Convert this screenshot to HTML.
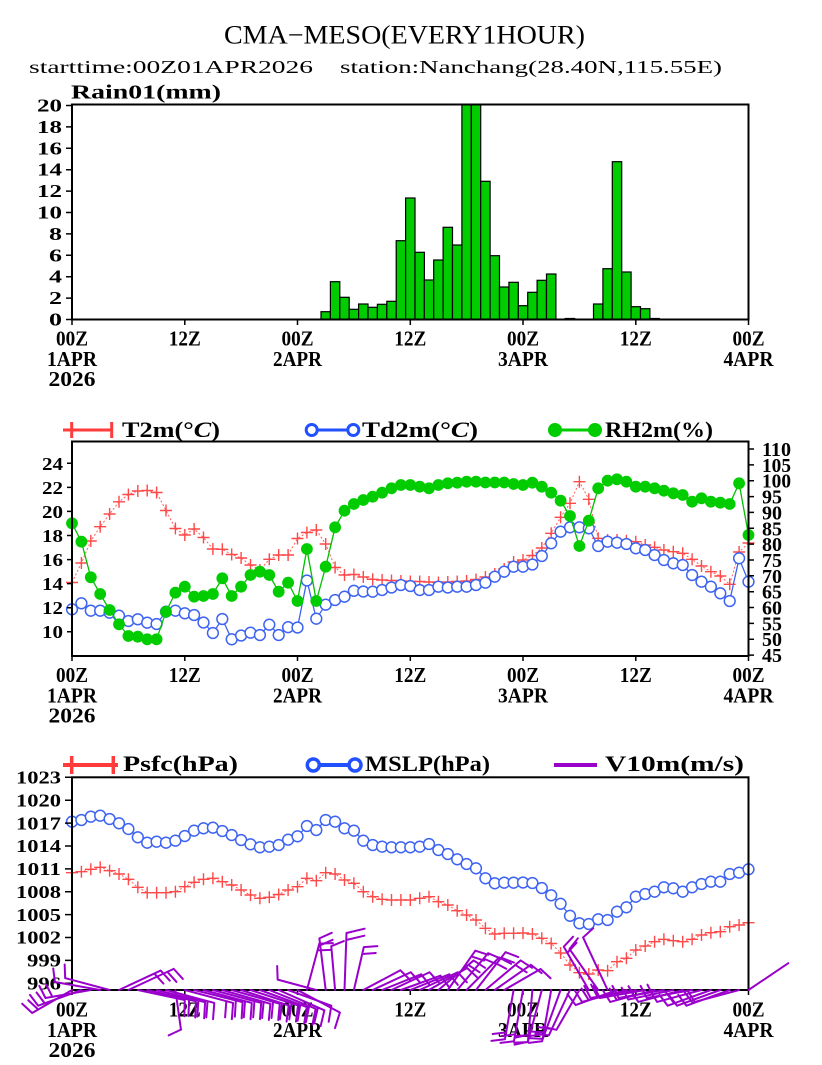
<!DOCTYPE html>
<html><head><meta charset="utf-8"><style>
html,body{margin:0;padding:0;background:#fff;}
svg{display:block;}
text{font-family:"Liberation Serif",serif;fill:#000;}
.b{font-weight:bold;}
</style></head><body>
<svg width="822" height="1065" viewBox="0 0 822 1065" xmlns="http://www.w3.org/2000/svg">
<defs>
<marker id="mx" markerWidth="14" markerHeight="14" refX="7" refY="7" markerUnits="userSpaceOnUse" overflow="visible"><path d="M1,7H13M7,1V13" stroke="#ff4848" stroke-width="1.4" fill="none"/></marker>
<marker id="mo" markerWidth="14" markerHeight="14" refX="7" refY="7" markerUnits="userSpaceOnUse" overflow="visible"><circle cx="7" cy="7" r="5.4" fill="#fff" stroke="#3d63f2" stroke-width="1.5"/></marker>
<marker id="mo2" markerWidth="14" markerHeight="14" refX="7" refY="7" markerUnits="userSpaceOnUse" overflow="visible"><circle cx="7" cy="7" r="5.4" fill="#fff" stroke="#3d63f2" stroke-width="1.5"/></marker>
<marker id="mg" markerWidth="14" markerHeight="14" refX="7" refY="7" markerUnits="userSpaceOnUse" overflow="visible"><circle cx="7" cy="7" r="5.9" fill="#00cc00"/></marker>
<clipPath id="cr"><rect x="72" y="104.5" width="676.5" height="215"/></clipPath>
</defs>

<!-- Titles -->
<text x="224" y="43.5" font-size="26" textLength="361" lengthAdjust="spacingAndGlyphs">CMA−MESO(EVERY1HOUR)</text>
<text x="29" y="73" font-size="18" textLength="284" lengthAdjust="spacingAndGlyphs">starttime:00Z01APR2026</text>
<text x="340" y="73" font-size="18" textLength="382" lengthAdjust="spacingAndGlyphs">station:Nanchang(28.40N,115.55E)</text>
<text class="b" x="71" y="98.5" font-size="20" textLength="150" lengthAdjust="spacingAndGlyphs">Rain01(mm)</text>

<!-- Rain bars -->
<g clip-path="url(#cr)" fill="#00cc00" stroke="#000" stroke-width="1.2">
<rect x="321.0" y="311.7" width="9.4" height="7.8"/>
<rect x="330.4" y="281.7" width="9.4" height="37.8"/>
<rect x="339.8" y="297.3" width="9.4" height="22.2"/>
<rect x="349.2" y="309.3" width="9.4" height="10.2"/>
<rect x="358.6" y="304" width="9.4" height="15.5"/>
<rect x="368.0" y="307.3" width="9.4" height="12.2"/>
<rect x="377.4" y="304.3" width="9.4" height="15.2"/>
<rect x="386.8" y="301.3" width="9.4" height="18.2"/>
<rect x="396.2" y="240.7" width="9.4" height="78.8"/>
<rect x="405.6" y="198" width="9.4" height="121.5"/>
<rect x="415.0" y="252.3" width="9.4" height="67.2"/>
<rect x="424.3" y="280" width="9.4" height="39.5"/>
<rect x="433.7" y="260" width="9.4" height="59.5"/>
<rect x="443.1" y="227.3" width="9.4" height="92.2"/>
<rect x="452.5" y="245" width="9.4" height="74.5"/>
<rect x="461.9" y="103" width="9.4" height="216.5"/>
<rect x="471.3" y="103" width="9.4" height="216.5"/>
<rect x="480.7" y="181.3" width="9.4" height="138.2"/>
<rect x="490.1" y="255.7" width="9.4" height="63.8"/>
<rect x="499.5" y="287" width="9.4" height="32.5"/>
<rect x="508.9" y="282.3" width="9.4" height="37.2"/>
<rect x="518.3" y="305.7" width="9.4" height="13.8"/>
<rect x="527.7" y="292.3" width="9.4" height="27.2"/>
<rect x="537.1" y="280.3" width="9.4" height="39.2"/>
<rect x="546.5" y="274" width="9.4" height="45.5"/>
<rect x="565.3" y="318.5" width="9.4" height="1"/>
<rect x="593.5" y="304" width="9.4" height="15.5"/>
<rect x="602.9" y="268.7" width="9.4" height="50.8"/>
<rect x="612.3" y="161.7" width="9.4" height="157.8"/>
<rect x="621.7" y="272" width="9.4" height="47.5"/>
<rect x="631.1" y="306.7" width="9.4" height="12.8"/>
<rect x="640.5" y="308.7" width="9.4" height="10.8"/>
<rect x="649.9" y="318.5" width="9.4" height="1"/>
</g>
<rect x="72" y="104.5" width="676.5" height="215" fill="none" stroke="#000" stroke-width="2"/>

<!-- Rain y axis -->
<g stroke="#000" stroke-width="1.5">
<path d="M66,319.5H72M66,298.1H72M66,276.7H72M66,255.3H72M66,233.9H72M66,212.5H72M66,191.1H72M66,169.7H72M66,148.3H72M66,126.9H72M66,105.5H72"/>
<path d="M72,319.5V325M184.8,319.5V325M297.5,319.5V325M410.3,319.5V325M523,319.5V325M635.8,319.5V325M748.5,319.5V325"/>
</g>
<g class="b" font-size="18" font-weight="bold" text-anchor="end">
<text x="62" y="325.5" textLength="13" lengthAdjust="spacingAndGlyphs">0</text>
<text x="62" y="304.1" textLength="13" lengthAdjust="spacingAndGlyphs">2</text>
<text x="62" y="282.7" textLength="13" lengthAdjust="spacingAndGlyphs">4</text>
<text x="62" y="261.3" textLength="13" lengthAdjust="spacingAndGlyphs">6</text>
<text x="62" y="239.9" textLength="13" lengthAdjust="spacingAndGlyphs">8</text>
<text x="62" y="218.5" textLength="25" lengthAdjust="spacingAndGlyphs">10</text>
<text x="62" y="197.1" textLength="25" lengthAdjust="spacingAndGlyphs">12</text>
<text x="62" y="175.7" textLength="25" lengthAdjust="spacingAndGlyphs">14</text>
<text x="62" y="154.3" textLength="25" lengthAdjust="spacingAndGlyphs">16</text>
<text x="62" y="132.9" textLength="25" lengthAdjust="spacingAndGlyphs">18</text>
<text x="62" y="111.5" textLength="25" lengthAdjust="spacingAndGlyphs">20</text>
</g>
<g font-size="21" font-weight="bold" text-anchor="middle">
<text x="72" y="345.5" textLength="32" lengthAdjust="spacingAndGlyphs">00Z</text>
<text x="184.8" y="345.5" textLength="32" lengthAdjust="spacingAndGlyphs">12Z</text>
<text x="297.5" y="345.5" textLength="32" lengthAdjust="spacingAndGlyphs">00Z</text>
<text x="410.3" y="345.5" textLength="32" lengthAdjust="spacingAndGlyphs">12Z</text>
<text x="523" y="345.5" textLength="32" lengthAdjust="spacingAndGlyphs">00Z</text>
<text x="635.8" y="345.5" textLength="32" lengthAdjust="spacingAndGlyphs">12Z</text>
<text x="748.5" y="345.5" textLength="32" lengthAdjust="spacingAndGlyphs">00Z</text>
<text x="72" y="366" textLength="50" lengthAdjust="spacingAndGlyphs">1APR</text>
<text x="297.5" y="366" textLength="49" lengthAdjust="spacingAndGlyphs">2APR</text>
<text x="523" y="366" textLength="50" lengthAdjust="spacingAndGlyphs">3APR</text>
<text x="748.5" y="366" textLength="50" lengthAdjust="spacingAndGlyphs">4APR</text>
<text x="72" y="386" textLength="47" lengthAdjust="spacingAndGlyphs">2026</text>
</g>

<!-- Middle legend -->
<line x1="63" y1="430" x2="113" y2="430" stroke="#ff3b3b" stroke-width="3"/>
<path d="M71.7,422V438M111.7,422V438" stroke="#ff3b3b" stroke-width="3"/>
<text x="122" y="437" font-size="22" font-weight="bold" textLength="98" lengthAdjust="spacingAndGlyphs">T2m(°<tspan font-style="italic">C</tspan>)</text>
<line x1="305" y1="430" x2="360" y2="430" stroke="#2050ff" stroke-width="3"/>
<circle cx="311.7" cy="430" r="5.5" fill="#fff" stroke="#2050ff" stroke-width="3"/>
<circle cx="353.3" cy="430" r="5.5" fill="#fff" stroke="#2050ff" stroke-width="3"/>
<text x="362" y="437" font-size="22" font-weight="bold" textLength="116" lengthAdjust="spacingAndGlyphs">Td2m(°<tspan font-style="italic">C</tspan>)</text>
<line x1="550" y1="430" x2="600" y2="430" stroke="#00cc00" stroke-width="3"/>
<circle cx="555" cy="430" r="7" fill="#00cc00"/>
<circle cx="595" cy="430" r="7" fill="#00cc00"/>
<text x="605" y="437" font-size="22" font-weight="bold" textLength="108" lengthAdjust="spacingAndGlyphs">RH2m(%)</text>

<!-- Middle data -->
<polyline fill="none" stroke="#ff6060" stroke-width="1" stroke-dasharray="2,2" marker-start="url(#mx)" marker-mid="url(#mx)" marker-end="url(#mx)" points="72.0,582.5 81.4,563 90.8,541 100.2,526.7 109.6,514 119.0,501.8 128.4,494.5 137.8,491 147.2,490.5 156.6,492.5 166.0,510.5 175.4,528.5 184.8,535 194.1,529 203.5,537.5 212.9,549 222.3,549.3 231.7,554.5 241.1,558 250.5,565 259.9,570 269.3,559.3 278.7,555 288.1,555 297.5,538.5 306.9,532.5 316.3,530 325.7,544 335.1,567.5 344.5,575 353.9,574.5 363.3,577 372.7,579.3 382.1,580 391.5,580.5 400.9,581 410.3,581.5 419.7,581.5 429.0,582 438.4,582.5 447.8,582 457.2,581.5 466.6,581 476.0,579.5 485.4,577 494.8,574 504.2,569 513.6,562 523.0,560 532.4,555.5 541.8,548 551.2,533.3 560.6,517.3 570.0,503.3 579.4,481.7 588.8,499.3 598.2,538.3 607.6,540 617.0,540 626.4,540.7 635.8,541.7 645.2,545 654.6,547.3 663.9,550 673.3,551.7 682.7,553.3 692.1,559.3 701.5,566 710.9,571.7 720.3,576 729.7,584.3 739.1,552 748.5,543"/>
<polyline fill="none" stroke="#3d63f2" stroke-width="1.3" marker-start="url(#mo)" marker-mid="url(#mo)" marker-end="url(#mo)" points="72.0,609.3 81.4,603.3 90.8,610.7 100.2,610.7 109.6,612.7 119.0,615.7 128.4,621 137.8,619.3 147.2,622.7 156.6,624 166.0,611.7 175.4,610.7 184.8,613.3 194.1,615 203.5,622.5 212.9,633 222.3,619 231.7,639.3 241.1,635.5 250.5,632.7 259.9,635 269.3,624.7 278.7,635 288.1,627.2 297.5,627.5 306.9,580.5 316.3,618.7 325.7,604.7 335.1,600 344.5,596.7 353.9,590.8 363.3,591.5 372.7,591.7 382.1,590 391.5,587.5 400.9,585 410.3,586 419.7,590 429.0,590 438.4,586.7 447.8,587.5 457.2,586.7 466.6,586.7 476.0,585 485.4,582.7 494.8,576.7 504.2,571.7 513.6,566.7 523.0,566.7 532.4,564.5 541.8,556 551.2,543.3 560.6,531.7 570.0,527.3 579.4,527.3 588.8,528.3 598.2,546 607.6,541.7 617.0,542.7 626.4,544 635.8,548.3 645.2,550 654.6,555 663.9,560 673.3,563.3 682.7,565 692.1,575 701.5,581.7 710.9,586.7 720.3,593.3 729.7,601 739.1,558.3 748.5,581.7"/>
<polyline fill="none" stroke="#00c000" stroke-width="1.3" marker-start="url(#mg)" marker-mid="url(#mg)" marker-end="url(#mg)" points="72.0,523.3 81.4,541.7 90.8,577.3 100.2,594 109.6,610 119.0,624.3 128.4,636 137.8,636.7 147.2,639.3 156.6,639.3 166.0,611.7 175.4,592.7 184.8,586.7 194.1,596.7 203.5,596 212.9,594 222.3,578.3 231.7,596 241.1,586.7 250.5,575 259.9,571.7 269.3,575 278.7,591.7 288.1,582.7 297.5,601 306.9,549 316.3,601 325.7,566.7 335.1,527.3 344.5,510.7 353.9,504 363.3,500 372.7,496.7 382.1,492.7 391.5,488.3 400.9,485 410.3,485 419.7,486.7 429.0,488.3 438.4,485 447.8,483.3 457.2,482.7 466.6,481.7 476.0,481.7 485.4,482.5 494.8,482.5 504.2,482.5 513.6,484 523.0,485 532.4,482.7 541.8,486.7 551.2,492.7 560.6,500.7 570.0,516 579.4,546 588.8,520.7 598.2,488.3 607.6,480.7 617.0,479.3 626.4,481.7 635.8,486.7 645.2,486.7 654.6,488.3 663.9,490.7 673.3,493.3 682.7,495 692.1,501.7 701.5,498.3 710.9,501.7 720.3,502.7 729.7,504 739.1,483.3 748.5,535"/>
<rect x="72" y="441.5" width="676.5" height="214.5" fill="none" stroke="#000" stroke-width="2"/>

<!-- Middle axes -->
<g stroke="#000" stroke-width="1.5">
<path d="M67,463.3H72M67,487.4H72M67,511.4H72M67,535.5H72M67,559.6H72M67,583.6H72M67,607.7H72M67,631.7H72"/>
<path d="M748.5,449H754M748.5,464.9H754M748.5,480.7H754M748.5,496.6H754M748.5,512.4H754M748.5,528.3H754M748.5,544.1H754M748.5,560H754M748.5,575.8H754M748.5,591.7H754M748.5,607.5H754M748.5,623.4H754M748.5,639.2H754M748.5,655.1H754"/>
<path d="M72,656V661M184.8,656V661M297.5,656V661M410.3,656V661M523,656V661M635.8,656V661M748.5,656V661"/>
</g>
<g font-size="18" font-weight="bold" text-anchor="end">
<text x="63" y="469.8" textLength="21" lengthAdjust="spacingAndGlyphs">24</text>
<text x="63" y="493.9" textLength="21" lengthAdjust="spacingAndGlyphs">22</text>
<text x="63" y="517.9" textLength="21" lengthAdjust="spacingAndGlyphs">20</text>
<text x="63" y="542" textLength="21" lengthAdjust="spacingAndGlyphs">18</text>
<text x="63" y="566.1" textLength="21" lengthAdjust="spacingAndGlyphs">16</text>
<text x="63" y="590.1" textLength="21" lengthAdjust="spacingAndGlyphs">14</text>
<text x="63" y="614.2" textLength="21" lengthAdjust="spacingAndGlyphs">12</text>
<text x="63" y="638.2" textLength="21" lengthAdjust="spacingAndGlyphs">10</text>
</g>
<g font-size="20" font-weight="bold">
<text x="762" y="456" textLength="29" lengthAdjust="spacingAndGlyphs">110</text>
<text x="762" y="471.9" textLength="29" lengthAdjust="spacingAndGlyphs">105</text>
<text x="762" y="487.7" textLength="29" lengthAdjust="spacingAndGlyphs">100</text>
<text x="762" y="503.6" textLength="20" lengthAdjust="spacingAndGlyphs">95</text>
<text x="762" y="519.4" textLength="20" lengthAdjust="spacingAndGlyphs">90</text>
<text x="762" y="535.3" textLength="20" lengthAdjust="spacingAndGlyphs">85</text>
<text x="762" y="551.1" textLength="20" lengthAdjust="spacingAndGlyphs">80</text>
<text x="762" y="567" textLength="20" lengthAdjust="spacingAndGlyphs">75</text>
<text x="762" y="582.8" textLength="20" lengthAdjust="spacingAndGlyphs">70</text>
<text x="762" y="598.7" textLength="20" lengthAdjust="spacingAndGlyphs">65</text>
<text x="762" y="614.5" textLength="20" lengthAdjust="spacingAndGlyphs">60</text>
<text x="762" y="630.4" textLength="20" lengthAdjust="spacingAndGlyphs">55</text>
<text x="762" y="646.2" textLength="20" lengthAdjust="spacingAndGlyphs">50</text>
<text x="762" y="662.1" textLength="20" lengthAdjust="spacingAndGlyphs">45</text>
</g>
<g font-size="21" font-weight="bold" text-anchor="middle">
<text x="72" y="682" textLength="32" lengthAdjust="spacingAndGlyphs">00Z</text>
<text x="184.8" y="682" textLength="32" lengthAdjust="spacingAndGlyphs">12Z</text>
<text x="297.5" y="682" textLength="32" lengthAdjust="spacingAndGlyphs">00Z</text>
<text x="410.3" y="682" textLength="32" lengthAdjust="spacingAndGlyphs">12Z</text>
<text x="523" y="682" textLength="32" lengthAdjust="spacingAndGlyphs">00Z</text>
<text x="635.8" y="682" textLength="32" lengthAdjust="spacingAndGlyphs">12Z</text>
<text x="748.5" y="682" textLength="32" lengthAdjust="spacingAndGlyphs">00Z</text>
<text x="72" y="702.5" textLength="50" lengthAdjust="spacingAndGlyphs">1APR</text>
<text x="297.5" y="702.5" textLength="49" lengthAdjust="spacingAndGlyphs">2APR</text>
<text x="523" y="702.5" textLength="50" lengthAdjust="spacingAndGlyphs">3APR</text>
<text x="748.5" y="702.5" textLength="50" lengthAdjust="spacingAndGlyphs">4APR</text>
<text x="72" y="722.5" textLength="47" lengthAdjust="spacingAndGlyphs">2026</text>
</g>

<!-- Bottom legend -->
<line x1="63" y1="765" x2="118" y2="765" stroke="#ff3b3b" stroke-width="4"/>
<path d="M71.7,756V774M113.3,756V774" stroke="#ff3b3b" stroke-width="3.5"/>
<text x="123" y="771" font-size="22" font-weight="bold" textLength="115" lengthAdjust="spacingAndGlyphs">Psfc(hPa)</text>
<line x1="307" y1="765" x2="362" y2="765" stroke="#2050ff" stroke-width="4"/>
<circle cx="313.3" cy="765" r="6" fill="#fff" stroke="#2050ff" stroke-width="3.5"/>
<circle cx="355" cy="765" r="6" fill="#fff" stroke="#2050ff" stroke-width="3.5"/>
<text x="365" y="771" font-size="22" font-weight="bold" textLength="125" lengthAdjust="spacingAndGlyphs">MSLP(hPa)</text>
<line x1="554" y1="765" x2="597" y2="765" stroke="#9900cc" stroke-width="4"/>
<text x="605" y="771" font-size="22" font-weight="bold" textLength="139" lengthAdjust="spacingAndGlyphs">V10m(m/s)</text>

<!-- Bottom data -->
<polyline fill="none" stroke="#ff6060" stroke-width="1" stroke-dasharray="2,2" marker-start="url(#mx)" marker-mid="url(#mx)" marker-end="url(#mx)" points="72.0,872.7 81.4,871.7 90.8,869.3 100.2,867.3 109.6,870.7 119.0,874 128.4,879.3 137.8,887.3 147.2,892.7 156.6,892.7 166.0,892.7 175.4,891.7 184.8,886.7 194.1,882.3 203.5,879.3 212.9,878.3 222.3,881.7 231.7,885 241.1,890 250.5,895 259.9,898.3 269.3,897.3 278.7,894.5 288.1,890 297.5,886.7 306.9,878.3 316.3,880.7 325.7,872.7 335.1,874 344.5,880 353.9,883.3 363.3,891.7 372.7,896.7 382.1,899.3 391.5,900 400.9,900 410.3,900 419.7,898.3 429.0,896.7 438.4,901.7 447.8,905 457.2,910.7 466.6,915 476.0,920 485.4,928.3 494.8,934 504.2,933.3 513.6,933.3 523.0,933 532.4,934 541.8,938.3 551.2,943.5 560.6,953 570.0,965 579.4,972.7 588.8,974 598.2,970 607.6,970.7 617.0,961.7 626.4,958.3 635.8,950 645.2,946 654.6,941.7 663.9,939.3 673.3,940.7 682.7,941.7 692.1,939.3 701.5,935 710.9,932.7 720.3,931.7 729.7,926.7 739.1,925 748.5,922.7"/>
<polyline fill="none" stroke="#3d63f2" stroke-width="1.3" marker-start="url(#mo2)" marker-mid="url(#mo2)" marker-end="url(#mo2)" points="72.0,821.7 81.4,820 90.8,816.7 100.2,815.7 109.6,819 119.0,823.3 128.4,829 137.8,837.3 147.2,842.7 156.6,841.7 166.0,842.7 175.4,840.7 184.8,836 194.1,830.7 203.5,828.3 212.9,827.7 222.3,831 231.7,835 241.1,840 250.5,844.3 259.9,847.3 269.3,846.7 278.7,845 288.1,839.7 297.5,836.3 306.9,826 316.3,830 325.7,820 335.1,821.7 344.5,828.3 353.9,830.7 363.3,840.7 372.7,845 382.1,846.7 391.5,847.3 400.9,847.3 410.3,847.3 419.7,846.7 429.0,844 438.4,850 447.8,854 457.2,859.3 466.6,864 476.0,868.3 485.4,878.3 494.8,883.3 504.2,882.7 513.6,882.7 523.0,882.5 532.4,883 541.8,888 551.2,895.3 560.6,903.8 570.0,915.8 579.4,923.3 588.8,924 598.2,919.3 607.6,920 617.0,911.7 626.4,907.3 635.8,896.7 645.2,894 654.6,891.7 663.9,887.3 673.3,888.3 682.7,891.7 692.1,887.3 701.5,884 710.9,881.7 720.3,881.7 729.7,874 739.1,872.7 748.5,869.3"/>
<rect x="72" y="777.3" width="676.5" height="212.7" fill="none" stroke="#000" stroke-width="2"/>

<!-- Bottom axes -->
<g stroke="#000" stroke-width="1.5">
<path d="M65,777.3H72M65,800.2H72M65,823.1H72M65,846H72M65,868.9H72M65,891.8H72M65,914.6H72M65,937.5H72M65,960.4H72M65,983.3H72"/>
<path d="M72,990V995M184.8,990V995M297.5,990V995M410.3,990V995M523,990V995M635.8,990V995M748.5,990V995"/>
</g>
<g font-size="18" font-weight="bold" text-anchor="end">
<text x="61" y="783.5" textLength="45" lengthAdjust="spacingAndGlyphs">1023</text>
<text x="61" y="806.4" textLength="45" lengthAdjust="spacingAndGlyphs">1020</text>
<text x="61" y="829.3" textLength="45" lengthAdjust="spacingAndGlyphs">1017</text>
<text x="61" y="852.2" textLength="45" lengthAdjust="spacingAndGlyphs">1014</text>
<text x="61" y="875.1" textLength="45" lengthAdjust="spacingAndGlyphs">1011</text>
<text x="61" y="898" textLength="45" lengthAdjust="spacingAndGlyphs">1008</text>
<text x="61" y="920.8" textLength="45" lengthAdjust="spacingAndGlyphs">1005</text>
<text x="61" y="943.7" textLength="45" lengthAdjust="spacingAndGlyphs">1002</text>
<text x="61" y="966.6" textLength="34" lengthAdjust="spacingAndGlyphs">999</text>
<text x="61" y="989.5" textLength="34" lengthAdjust="spacingAndGlyphs">996</text>
</g>
<g font-size="21" font-weight="bold" text-anchor="middle">
<text x="72" y="1016.5" textLength="32" lengthAdjust="spacingAndGlyphs">00Z</text>
<text x="184.8" y="1016.5" textLength="32" lengthAdjust="spacingAndGlyphs">12Z</text>
<text x="297.5" y="1016.5" textLength="32" lengthAdjust="spacingAndGlyphs">00Z</text>
<text x="410.3" y="1016.5" textLength="32" lengthAdjust="spacingAndGlyphs">12Z</text>
<text x="523" y="1016.5" textLength="32" lengthAdjust="spacingAndGlyphs">00Z</text>
<text x="635.8" y="1016.5" textLength="32" lengthAdjust="spacingAndGlyphs">12Z</text>
<text x="748.5" y="1016.5" textLength="32" lengthAdjust="spacingAndGlyphs">00Z</text>
<text x="72" y="1037" textLength="50" lengthAdjust="spacingAndGlyphs">1APR</text>
<text x="297.5" y="1037" textLength="49" lengthAdjust="spacingAndGlyphs">2APR</text>
<text x="523" y="1037" textLength="50" lengthAdjust="spacingAndGlyphs">3APR</text>
<text x="748.5" y="1037" textLength="50" lengthAdjust="spacingAndGlyphs">4APR</text>
<text x="72" y="1057" textLength="47" lengthAdjust="spacingAndGlyphs">2026</text>
</g>

<!-- Wind barbs -->
<g stroke="#9a00cc" stroke-width="2" fill="none" stroke-linecap="round">
<path transform="translate(72.0,990) rotate(150)" d="M0,0H46M46,0l4,13M39,0l4,13"/>
<path transform="translate(81.4,990) rotate(160)" d="M0,0H46M46,0l4,13M39,0l4,13"/>
<path transform="translate(90.8,990) rotate(170)" d="M0,0H46M46,0l4,13M39,0l4,13"/>
<path transform="translate(100.2,990) rotate(190)" d="M0,0H46M46,0l4,13"/>
<path transform="translate(109.6,990) rotate(195)" d="M0,0H46M46,0l4,13"/>
<path transform="translate(119.0,990) rotate(-25)" d="M0,0H46M46,0l4,13M39,0l4,13"/>
<path transform="translate(128.4,990) rotate(-25)" d="M0,0H50M50,0l4,13M43,0l4,13"/>
<path transform="translate(137.8,990) rotate(12)" d="M0,0H48M48,0l3,16"/>
<path transform="translate(147.2,990) rotate(13)" d="M0,0H50M50,0l3,16M43,0l3,16"/>
<path transform="translate(156.6,990) rotate(14)" d="M0,0H50M50,0l3,16M43,0l3,16"/>
<path transform="translate(166.0,990) rotate(15)" d="M0,0H50M50,0l3,16M43,0l3,16"/>
<path transform="translate(175.4,990) rotate(82)" d="M0,0H40M40,0l4,13"/>
<path transform="translate(184.8,990) rotate(15)" d="M0,0H50M50,0l3,16M43,0l3,16"/>
<path transform="translate(194.1,990) rotate(14)" d="M0,0H50M50,0l3,16M43,0l3,16"/>
<path transform="translate(203.5,990) rotate(15)" d="M0,0H50M50,0l3,16M43,0l3,16"/>
<path transform="translate(212.9,990) rotate(15)" d="M0,0H50M50,0l3,16M43,0l3,16"/>
<path transform="translate(222.3,990) rotate(16)" d="M0,0H50M50,0l3,16M43,0l3,16"/>
<path transform="translate(231.7,990) rotate(16)" d="M0,0H50M50,0l3,16M43,0l3,16"/>
<path transform="translate(241.1,990) rotate(18)" d="M0,0H50M50,0l3,16M43,0l3,16"/>
<path transform="translate(250.5,990) rotate(18)" d="M0,0H50M50,0l3,16M43,0l3,16"/>
<path transform="translate(259.9,990) rotate(20)" d="M0,0H50M50,0l3,16M43,0l3,16"/>
<path transform="translate(269.3,990) rotate(22)" d="M0,0H50M50,0l3,16M43,0l3,16"/>
<path transform="translate(278.7,990) rotate(24)" d="M0,0H50M50,0l3,16M43,0l3,16"/>
<path transform="translate(288.1,990) rotate(20)" d="M0,0H46M46,0l3,16"/>
<path transform="translate(297.5,990) rotate(28)" d="M0,0H48M48,0l3,16"/>
<path transform="translate(306.9,990) rotate(-75)" d="M0,0H48M48,0l4,13M41,0l4,13"/>
<path transform="translate(316.3,990) rotate(195)" d="M0,0H40M40,0l4,13"/>
<path transform="translate(325.7,990) rotate(-97)" d="M0,0H52M52,0l4,13M45,0l4,13"/>
<path transform="translate(335.1,990) rotate(-95)" d="M0,0H44M44,0l4,13"/>
<path transform="translate(344.5,990) rotate(-88)" d="M0,0H57M57,0l5,18M50,0l5,18"/>
<path transform="translate(353.9,990) rotate(-77)" d="M0,0H44M44,0l4,13M37,0l4,13"/>
<path transform="translate(363.3,990) rotate(-28)" d="M0,0H42M42,0l4,13"/>
<path transform="translate(372.7,990) rotate(-25)" d="M0,0H42M42,0l4,13"/>
<path transform="translate(382.1,990) rotate(-22)" d="M0,0H42M42,0l4,13"/>
<path transform="translate(391.5,990) rotate(-25)" d="M0,0H42M42,0l4,13"/>
<path transform="translate(400.9,990) rotate(-20)" d="M0,0H42M42,0l4,13"/>
<path transform="translate(410.3,990) rotate(-22)" d="M0,0H42M42,0l4,13"/>
<path transform="translate(419.7,990) rotate(-25)" d="M0,0H42M42,0l4,13"/>
<path transform="translate(429.0,990) rotate(-30)" d="M0,0H44M44,0l4,13"/>
<path transform="translate(438.4,990) rotate(-40)" d="M0,0H46M46,0l4,13M39,0l4,13"/>
<path transform="translate(447.8,990) rotate(-55)" d="M0,0H48M48,0l4,13M41,0l4,13"/>
<path transform="translate(457.2,990) rotate(-50)" d="M0,0H48M48,0l4,13M41,0l4,13"/>
<path transform="translate(466.6,990) rotate(-45)" d="M0,0H46M46,0l4,13M39,0l4,13"/>
<path transform="translate(476.0,990) rotate(-52)" d="M0,0H48M48,0l4,13M41,0l4,13"/>
<path transform="translate(485.4,990) rotate(-40)" d="M0,0H46M46,0l4,13M39,0l4,13"/>
<path transform="translate(494.8,990) rotate(-35)" d="M0,0H44M44,0l4,13"/>
<path transform="translate(504.2,990) rotate(-30)" d="M0,0H42M42,0l4,13"/>
<path transform="translate(513.6,990) rotate(100)" d="M0,0H50M50,0l4,13M43,0l4,13"/>
<path transform="translate(523.0,990) rotate(100)" d="M0,0H52M52,0l4,13M45,0l4,13"/>
<path transform="translate(532.4,990) rotate(95)" d="M0,0H52M52,0l4,13M45,0l4,13"/>
<path transform="translate(541.8,990) rotate(105)" d="M0,0H54M54,0l4,13M47,0l4,13"/>
<path transform="translate(551.2,990) rotate(100)" d="M0,0H52M52,0l4,13M45,0l4,13"/>
<path transform="translate(560.6,990) rotate(110)" d="M0,0H52M52,0l4,13M45,0l4,13"/>
<path transform="translate(570.0,990) rotate(115)" d="M0,0H50M50,0l4,13M43,0l4,13"/>
<path transform="translate(579.4,990) rotate(120)" d="M0,0H46M46,0l4,13"/>
<path transform="translate(588.8,990) rotate(-120)" d="M0,0H50M50,0l4,13M43,0l4,13"/>
<path transform="translate(598.2,990) rotate(-125)" d="M0,0H50M50,0l4,13"/>
<path transform="translate(607.6,990) rotate(-115)" d="M0,0H58M58,0l4,13"/>
<path transform="translate(617.0,990) rotate(160)" d="M0,0H44M44,0l4,13"/>
<path transform="translate(626.4,990) rotate(165)" d="M0,0H46M46,0l4,13M39,0l4,13"/>
<path transform="translate(635.8,990) rotate(170)" d="M0,0H46M46,0l4,13M39,0l4,13"/>
<path transform="translate(645.2,990) rotate(170)" d="M0,0H46M46,0l4,13"/>
<path transform="translate(654.6,990) rotate(165)" d="M0,0H46M46,0l4,13M39,0l4,13"/>
<path transform="translate(663.9,990) rotate(170)" d="M0,0H46M46,0l4,13"/>
<path transform="translate(673.3,990) rotate(168)" d="M0,0H46M46,0l4,13M39,0l4,13"/>
<path transform="translate(682.7,990) rotate(165)" d="M0,0H46M46,0l4,13"/>
<path transform="translate(692.1,990) rotate(170)" d="M0,0H46M46,0l4,13M39,0l4,13"/>
<path transform="translate(701.5,990) rotate(165)" d="M0,0H46M46,0l4,13"/>
<path transform="translate(710.9,990) rotate(160)" d="M0,0H46M46,0l4,13M39,0l4,13"/>
<path transform="translate(720.3,990) rotate(160)" d="M0,0H46M46,0l4,13"/>
<path transform="translate(729.7,990) rotate(160)" d="M0,0H46M46,0l4,13M39,0l4,13"/>
<path transform="translate(739.1,990) rotate(165)" d="M0,0H46M46,0l4,13"/>
<path transform="translate(748.5,990) rotate(-34)" d="M0,0H48"/>
</g>
</svg>
</body></html>
